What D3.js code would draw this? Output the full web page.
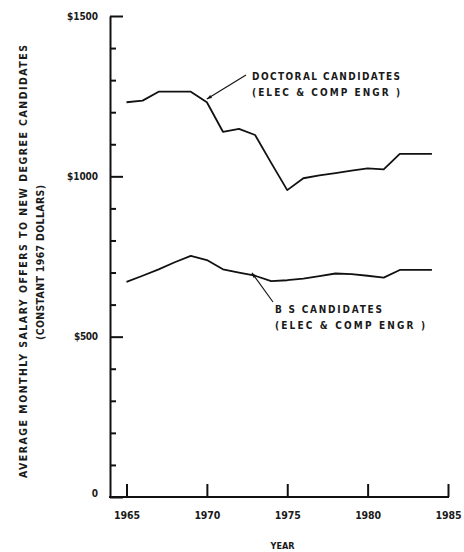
<!DOCTYPE html>
<html>
<head>
<meta charset="utf-8">
<script src="https://cdn.jsdelivr.net/npm/d3@7"></script>
<style>
  html, body { margin: 0; padding: 0; background: #fff; }
  svg { display: block; }
  text { font-family: "DejaVu Sans Condensed", "Liberation Sans Narrow", sans-serif; fill: #1a1a1a; font-weight: bold; }
</style>
</head>
<body>
<svg id="chart" width="464" height="552"></svg>
<script>
// ---- data ----
const years = [1965,1966,1967,1968,1969,1970,1971,1972,1973,1974,1975,1976,1977,1978,1979,1980,1981,1982,1983,1984];
const doctoral = [1231,1236,1264,1264,1264,1231,1139,1148,1129,1042,957,994,1003,1010,1018,1025,1022,1070,1070,1070];
const bachelor = [671,690,710,732,752,739,710,700,690,673,676,681,689,697,695,690,684,708,708,708];
const yMajorTicks = [0,500,1000,1500];
const yTickLabels = ["0","$500","$1000","$1500"];
const yMinorTicks = [100,200,300,400,600,700,800,900,1100,1200,1300,1400];
const xTicks = [1965,1970,1975,1980,1985];
const yTitle1 = "AVERAGE MONTHLY SALARY OFFERS TO NEW DEGREE CANDIDATES";
const yTitle2 = "(CONSTANT 1967 DOLLARS)";
const xTitle = "YEAR";
const docLabel = ["DOCTORAL CANDIDATES", "(ELEC & COMP ENGR )"];
const bsLabel = ["B S CANDIDATES", "(ELEC & COMP ENGR )"];

// ---- layout ----
const svg = d3.select("#chart");
const axisX = 110;
const x = d3.scaleLinear().domain([1965, 1985]).range([126.5, 448]);
const y = d3.scaleLinear().domain([0, 1500]).range([497, 16]);

// y axis (major)
const yAxisMajor = d3.axisLeft(y)
  .tickValues(yMajorTicks)
  .tickSize(-13)
  .tickSizeOuter(0)
  .tickPadding(12)
  .tickFormat((d, i) => yTickLabels[i]);
const gy = svg.append("g").attr("transform", `translate(${axisX},0)`).call(yAxisMajor);
gy.select(".domain").attr("stroke", "#111").attr("stroke-width", 2);
gy.selectAll(".tick line").attr("stroke", "#111").attr("stroke-width", 2);
gy.selectAll(".tick text")
  .attr("font-size", 10)
  .style("font-family", "'DejaVu Sans Condensed', sans-serif")
  .style("font-weight", "bold")
  .attr("fill", "#1a1a1a")
  .each(function(d) {
    const t = d3.select(this);
    if (d === 0) { t.attr("dy", "-0.1em"); }
    else { t.attr("textLength", d === 500 ? 24 : 31).attr("lengthAdjust", "spacing"); }
  });

// y axis (minor)
const yAxisMinor = d3.axisLeft(y).tickValues(yMinorTicks).tickSize(-6).tickFormat("");
const gyMinor = svg.append("g").attr("transform", `translate(${axisX},0)`).call(yAxisMinor);
gyMinor.select(".domain").remove();
gyMinor.selectAll(".tick line").attr("stroke", "#111").attr("stroke-width", 2);

// x axis
const xAxis = d3.axisBottom(x).tickValues(xTicks).tickSize(-13).tickPadding(15).tickFormat(d3.format("d"));
const gx = svg.append("g").attr("transform", `translate(0,${y(0)})`).call(xAxis);
gx.select(".domain").remove();
gx.selectAll(".tick line").attr("stroke", "#111").attr("stroke-width", 2);
gx.selectAll(".tick text")
  .attr("font-size", 10.5)
  .style("font-family", "'DejaVu Sans Condensed', sans-serif")
  .style("font-weight", "bold")
  .attr("fill", "#1a1a1a")
  .attr("textLength", 26)
  .attr("lengthAdjust", "spacing");
svg.append("line")
  .attr("x1", axisX - 1).attr("x2", x(1985) + 1)
  .attr("y1", y(0)).attr("y2", y(0))
  .attr("stroke", "#111").attr("stroke-width", 2);

// lines
const line = d3.line().x((d, i) => x(years[i])).y(d => y(d));
[doctoral, bachelor].forEach(series => {
  svg.append("path")
    .datum(series)
    .attr("d", line)
    .attr("fill", "none")
    .attr("stroke", "#111")
    .attr("stroke-width", 1.8)
    .attr("stroke-linejoin", "round");
});

// arrows
svg.append("defs").append("marker")
  .attr("id", "arrow")
  .attr("viewBox", "0 0 10 10")
  .attr("refX", 10).attr("refY", 5)
  .attr("markerWidth", 12).attr("markerHeight", 5)
  .attr("markerUnits", "userSpaceOnUse")
  .attr("orient", "auto")
  .append("path").attr("d", "M0,1.5 L10,5 L0,8.5 Z").attr("fill", "#111");

function arrow(x1, y1, yr, val) {
  svg.append("line")
    .attr("x1", x1).attr("y1", y1)
    .attr("x2", x(yr)).attr("y2", y(val) - 1)
    .attr("stroke", "#111").attr("stroke-width", 1.1)
    .attr("marker-end", "url(#arrow)");
}
arrow(246, 75, 1970, 1238);
arrow(273, 302, 1972.8, 696);

// annotations
function label(lines, x0, baselines, lengths) {
  lines.forEach((s, i) => {
    svg.append("text")
      .attr("x", x0).attr("y", baselines[i])
      .attr("font-size", 10)
      .attr("textLength", lengths[i])
      .attr("lengthAdjust", "spacing")
      .text(s);
  });
}
label(docLabel, 252, [79.5, 96], [148, 148]);
label(bsLabel, 275, [313, 328.5], [107, 150]);

// axis titles
svg.append("text")
  .attr("transform", "translate(26.5,261.5) rotate(-90)")
  .attr("text-anchor", "middle")
  .attr("font-size", 10.5)
  .attr("textLength", 433)
  .attr("lengthAdjust", "spacing")
  .text(yTitle1);
svg.append("text")
  .attr("transform", "translate(43.5,262.5) rotate(-90)")
  .attr("text-anchor", "middle")
  .attr("font-size", 10.5)
  .attr("textLength", 155)
  .attr("lengthAdjust", "spacing")
  .text(yTitle2);
svg.append("text")
  .attr("x", 282.5).attr("y", 549)
  .attr("text-anchor", "middle")
  .attr("font-size", 9)
  .attr("textLength", 24)
  .attr("lengthAdjust", "spacingAndGlyphs")
  .text(xTitle);
</script>
</body>
</html>
